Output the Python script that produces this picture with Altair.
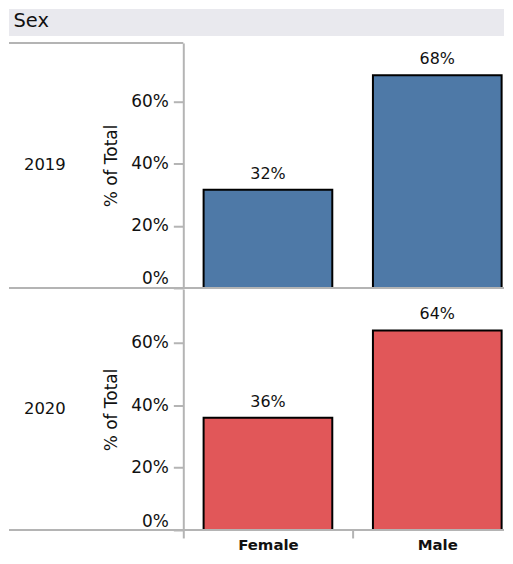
import altair as alt
import pandas as pd

# ---- data ----
sexes = ["Female", "Male"]
years = ["2019", "2020"]
share_2019 = [0.316, 0.684]
share_2020 = [0.36, 0.64]
bar_colors = ["#4e79a7", "#e15759"]
y_ticks = [0, 0.2, 0.4, 0.6]
header_label = "Sex"
y_title = "% of Total"

FONT = "DejaVu Sans"
GRAY = "#b4b4b4"
TEXT = "#111111"
W = 322          # plot width
LEFT = 175       # row-header area left of the plot


def panel(year, shares, color, h, ymax, top, bottom):
    df = pd.DataFrame({"Sex": sexes, "Share": shares})
    if bottom:
        x_axis = alt.Axis(title=None, domain=False, bandPosition=0,
                          tickOffset=-20.4, labelOffset=20.4, tickSize=8,
                          tickWidth=2, tickColor=GRAY, labelAngle=0,
                          labelFontSize=15, labelFontWeight="bold",
                          labelColor=TEXT, labelPadding=0)
    else:
        x_axis = None
    x = alt.X("Sex:N", sort=sexes,
              scale=alt.Scale(paddingInner=0.24, paddingOuter=0.067, align=0.895),
              axis=x_axis)
    y = alt.Y("Share:Q",
              scale=alt.Scale(domain=[0, ymax], nice=False, zero=True),
              axis=alt.Axis(values=y_ticks, format=".0%", title=y_title, grid=False,
                            domainColor=GRAY, domainWidth=2, tickColor=GRAY,
                            tickWidth=2, tickSize=10, labelPadding=5,
                            labelFontSize=17, labelColor=TEXT, labelFlush=True,
                            titleFontSize=17, titleFontWeight="normal",
                            titleColor=TEXT, titleX=-63, titleY=h / 2))
    base = alt.Chart(df)
    bars = base.mark_bar(color=color, stroke="black", strokeWidth=2).encode(x=x, y=y)
    labels = base.mark_text(baseline="bottom", dy=-8, fontSize=16,
                            color=TEXT).encode(
        x=alt.X("Sex:N", sort=sexes, axis=x_axis), y="Share:Q",
        text=alt.Text("Share:Q", format=".0%"))

    ydf = pd.DataFrame({"Year": [year]})
    year_lbl = alt.Chart(ydf).mark_text(align="left", baseline="middle",
                                        fontSize=16.5, color=TEXT).encode(
        text="Year:N", x=alt.value(-160), y=alt.value(h / 2))
    bottom_rule = alt.Chart(ydf).mark_rule(color=GRAY, strokeWidth=2).encode(
        x=alt.value(-LEFT), x2=alt.value(W), y=alt.value(h))

    layers = [bars, labels, year_lbl, bottom_rule]
    if top:
        hdf = pd.DataFrame({"Header": [header_label]})
        band = alt.Chart(hdf).mark_rect(color="#e9e9ee").encode(
            x=alt.value(-LEFT), x2=alt.value(W), y=alt.value(-34), y2=alt.value(-7))
        htxt = alt.Chart(hdf).mark_text(align="left", baseline="top",
                                        fontSize=19.5, color=TEXT).encode(
            text="Header:N", x=alt.value(-LEFT + 4.5), y=alt.value(-31.5))
        top_rule = alt.Chart(hdf).mark_rule(color=GRAY, strokeWidth=2).encode(
            x=alt.value(-LEFT), x2=alt.value(0), y=alt.value(0))
        layers = [band, htxt, top_rule] + layers
    return alt.layer(*layers).properties(width=W, height=h)


p1 = panel(years[0], share_2019, bar_colors[0], 246, 0.788, True, False)
p2 = panel(years[1], share_2020, bar_colors[1], 242, 0.773, False, True)

chart = (
    alt.vconcat(p1, p2, spacing=0)
    .resolve_scale(x="independent", y="independent")
    .properties(padding=0, background="white")
    .configure(font=FONT)
    .configure_view(stroke=None)
)

chart.save("out.html", embed_options={"renderer": "svg", "actions": False})
